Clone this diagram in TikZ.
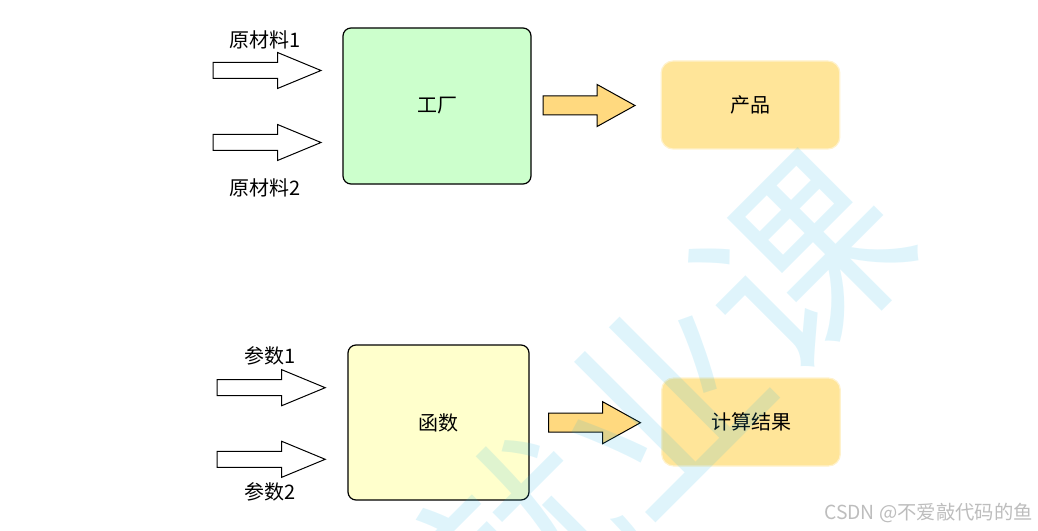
\documentclass[tikz,border=0pt]{standalone}
\usepackage{fontspec}
\setmainfont{Noto Sans CJK SC}
\usepackage{xcolor}
\usetikzlibrary{shapes.arrows}
\definecolor{factorygreen}{HTML}{CCFFCC}
\definecolor{funcyellow}{HTML}{FFFFCC}
\definecolor{resultorange}{HTML}{FFE599}
\definecolor{resultedge}{HTML}{FFF2CC}
\definecolor{outarrowfill}{HTML}{FFD97F}
\definecolor{markblue}{HTML}{1EB4E6}
\definecolor{csdngray}{HTML}{BDBDBD}

\begin{document}
\begin{tikzpicture}[x=0.75pt,y=-0.75pt,font=\fontsize{15pt}{18pt}\selectfont]
        \newcommand{\figfactoryrad}{6pt}
        \newcommand{\figresultrad}{9pt}
        \newcommand{\figinarrowlen}{81pt}
        \newcommand{\figoutarrowlen}{69pt}
        \tikzset{
            machinebox/.style={draw=black, line width=0.9pt, rounded corners=\figfactoryrad, inner sep=0pt},
            resultbox/.style={draw=resultedge, fill=resultorange, line width=0.9pt, rounded corners=\figresultrad,
                minimum width=134pt, minimum height=66pt, inner sep=0pt},
            inarrow/.style={single arrow, draw=black, fill=white, line width=0.75pt, anchor=tail,
                inner xsep=0pt, inner ysep=5.625pt,
                minimum height=\figinarrowlen, minimum width=26.25pt,
                single arrow head extend=7.5pt, single arrow tip angle=45},
            outarrow/.style={single arrow, draw=black, fill=outarrowfill, line width=0.75pt, anchor=tail,
                inner xsep=0pt, inner ysep=6.75pt,
                minimum height=\figoutarrowlen, minimum width=30.75pt,
                single arrow head extend=8.6pt, single arrow tip angle=58}
        }
        \useasboundingbox (0,0) rectangle (1038,531);
        % factory
        \node[machinebox, fill=factorygreen, minimum width=141pt, minimum height=117pt] (factory) at (437,106) {工厂};
        \node[inarrow] (rawa) at (212.5,70.5) {};
        \node[inarrow] (rawb) at (212.5,142.5) {};
        \node (rawalabel) at (265,40) {原材料1};
        \node (rawblabel) at (265,188) {原材料2};
        \node[outarrow] (prodarrow) at (542.5,105.5) {};
        \node[resultbox] (product) at (750.5,105) {产品};
        % function
        \node[machinebox, fill=funcyellow, minimum width=135.75pt, minimum height=116.25pt] (func) at (438.5,422.5) {函数};
        \node[inarrow] (parama) at (216.7,387.7) {};
        \node[inarrow] (paramb) at (216.7,459.3) {};
        \node (paramalabel) at (270,356) {参数1};
        \node (paramblabel) at (270,492) {参数2};
        \node[outarrow] (resarrow) at (548,422.7) {};
        \node[resultbox] (result) at (751,422) {计算结果};
        % watermarks
        \node[rotate=45, text=markblue, text opacity=0.14, font=\fontsize{150pt}{150pt}\selectfont] (mark) at (660,403) {就业课};
        \node[anchor=east, text=csdngray, font=\fontsize{14.5pt}{17pt}\selectfont, inner sep=0pt] (csdn) at (1033,513) {CSDN @不爱敲代码的鱼};
    \end{tikzpicture}
\end{document}
